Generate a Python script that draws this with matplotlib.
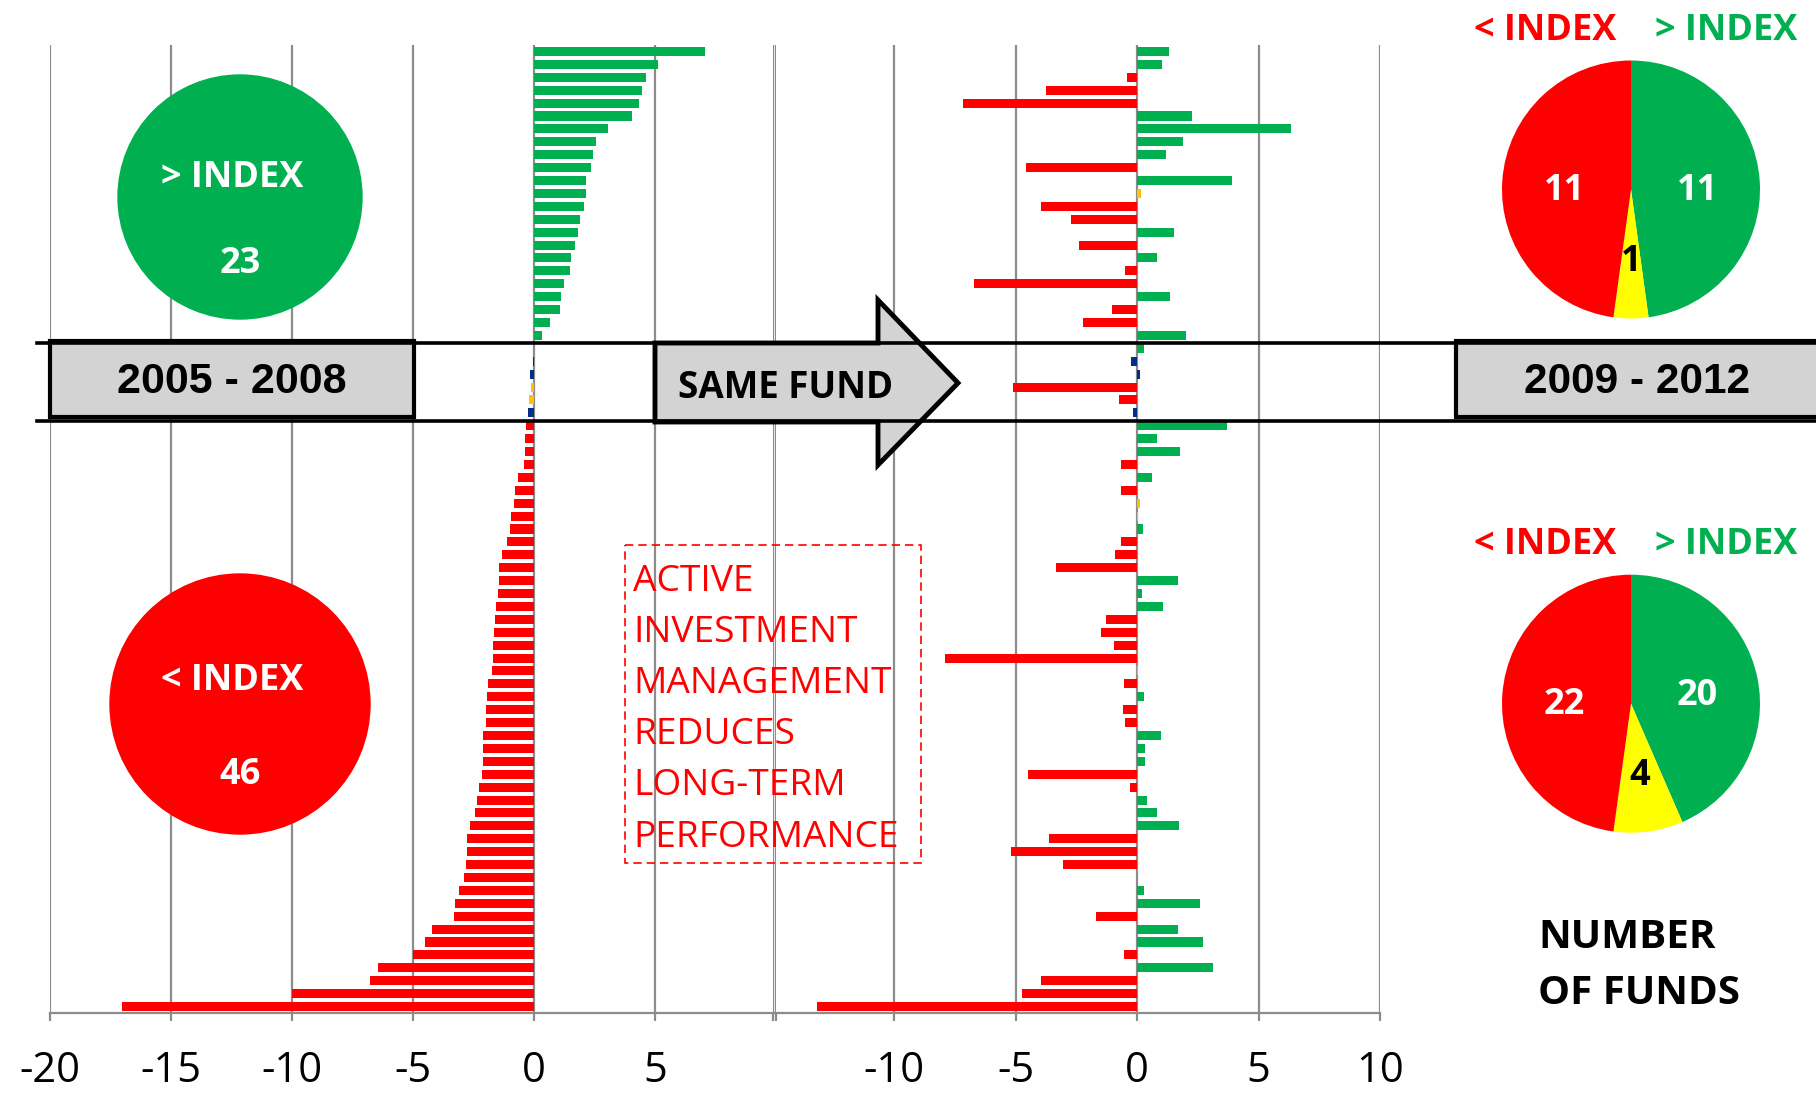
import matplotlib
matplotlib.use("Agg")
import matplotlib.pyplot as plt
from matplotlib.patches import Circle, Rectangle, Polygon

plt.rcParams['font.family'] = ['Open Sans', 'DejaVu Sans']
plt.rcParams['axes.unicode_minus'] = False

# excess return vs index, one row per fund (top to bottom)
left_vals = [7.05, 5.11, 4.61, 4.45, 4.33, 4.04, 3.04, 2.55, 2.42, 2.34, 2.13, 2.13,
             2.05, 1.89, 1.80, 1.68, 1.52, 1.47, 1.23, 1.10, 1.06, 0.65, 0.32,
             -0.02, -0.04, -0.17, -0.14, -0.22, -0.26,
             -0.32, -0.37, -0.39, -0.41, -0.66, -0.79, -0.83, -0.97, -0.99, -1.10,
             -1.34, -1.45, -1.46, -1.50, -1.58, -1.60, -1.65, -1.68, -1.69, -1.75,
             -1.91, -1.94, -1.97, -1.98, -2.09, -2.10, -2.11, -2.15, -2.27, -2.36,
             -2.44, -2.63, -2.75, -2.75, -2.81, -2.88, -3.10, -3.25, -3.31, -4.23,
             -4.52, -4.99, -6.45, -6.78, -9.99, -17.04]
left_cat = (['G'] * 23 + ['Y', 'B', 'B', 'Y', 'Y', 'B'] + ['R'] * 46)

right_vals = [1.30, 1.02, -0.43, -3.74, -7.17, 2.25, 6.32, 1.88, 1.18, -4.57, 3.90,
              0.15, -3.95, -2.72, 1.51, -2.41, 0.81, -0.49, -6.71, 1.34, -1.04,
              -2.25, 2.00,
              0.27, -0.26, 0.10, -5.13, -0.75, -0.18,
              3.69, 0.81, 1.76, -0.67, 0.60, -0.66, 0.11, 0.02, 0.23, -0.66, -0.91,
              -3.35, 1.67, 0.19, 1.06, -1.29, -1.51, -0.95, -7.93, 0.05, -0.53,
              0.27, -0.59, -0.51, 0.97, 0.32, 0.32, -4.50, -0.29, 0.40, 0.81, 1.71,
              -3.62, -5.20, -3.05, 0.01, 0.27, 2.58, -1.69, 1.67, 2.70, -0.53, 3.11,
              -3.98, -4.75, -13.2]
right_cat = ['G', 'G', 'R', 'R', 'R', 'G', 'G', 'G', 'G', 'R', 'G', 'Y', 'R', 'R',
             'G', 'R', 'G', 'R', 'R', 'G', 'R', 'R', 'G',
             'G', 'B', 'B', 'R', 'R', 'B',
             'G', 'G', 'G', 'R', 'G', 'R', 'Y', 'Y', 'G', 'R', 'R', 'R', 'G', 'G',
             'G', 'R', 'R', 'R', 'R', 'Y', 'R', 'G', 'R', 'R', 'G', 'G', 'G', 'R',
             'R', 'G', 'G', 'G', 'R', 'R', 'R', 'Y', 'G', 'G', 'R', 'G', 'G', 'R',
             'G', 'R', 'R', 'R']

left_ticks = [-20, -15, -10, -5, 0, 5, 10]
left_labels = ['-20', '-15', '-10', '-5', '0', '5', '']
right_ticks = [-15, -10, -5, 0, 5, 10]
right_labels = ['', '-10', '-5', '0', '5', '10']

box_text = ['ACTIVE', 'INVESTMENT', 'MANAGEMENT', 'REDUCES', 'LONG-TERM', 'PERFORMANCE']

bar_col = {'G': '#00B050', 'R': '#FF0000', 'Y': '#FFC000', 'B': '#002E8A'}
pie_col = {'G': '#00B050', 'R': '#FF0000', 'Y': '#FFFF00'}
GRID = '#8C8C8C'

W, H = 1816, 1093
fig = plt.figure(figsize=(W / 100, H / 100), dpi=100)

n = len(left_vals)
rows = list(range(n))


def bar_axes(rect, vals, cats, xlim, ticks, labels):
    ax = fig.add_axes(rect)
    ax.barh(rows, vals, height=0.7, color=[bar_col[c] for c in cats], zorder=3)
    ax.set_xlim(*xlim)
    ax.set_ylim(n - 0.5, -0.5)
    ax.set_xticks(ticks)
    ax.set_xticklabels(labels)
    ax.set_yticks([])
    ax.grid(axis='x', color=GRID, lw=1.6)
    ax.set_axisbelow(True)
    for s in ['top', 'right', 'left']:
        ax.spines[s].set_visible(False)
    ax.spines['bottom'].set_color(GRID)
    ax.spines['bottom'].set_linewidth(1.6)
    ax.tick_params(axis='x', direction='out', length=6, width=1.6, color=GRID,
                   labelsize=30, pad=21)
    ax.patch.set_alpha(0)
    return ax


y0 = (H - 1013) / H
hh = 968 / H
bar_axes([50 / W, y0, 726 / W, hh], left_vals, left_cat, (-20, 10), left_ticks, left_labels)
bar_axes([773 / W, y0, 607 / W, hh], right_vals, right_cat, (-15, 10), right_ticks, right_labels)

# overlay in pixel coordinates
ov = fig.add_axes([0, 0, 1, 1], zorder=10)
ov.set_xlim(0, W)
ov.set_ylim(H, 0)
ov.axis('off')
ov.patch.set_alpha(0)

# band
ov.plot([37, W], [343, 343], color='black', lw=2.6)
ov.plot([37, W], [421, 421], color='black', lw=2.6)
ov.add_patch(Rectangle((50, 341), 364, 76, facecolor='#D3D3D3', edgecolor='black', lw=3))
ov.add_patch(Rectangle((1456, 341), 400, 76, facecolor='#D3D3D3', edgecolor='black', lw=3))
ov.text(232, 382, '2005 - 2008', ha='center', va='center', fontsize=31,
        fontweight='bold', family=['Liberation Sans', 'DejaVu Sans'])
ov.text(1637, 382, '2009 - 2012', ha='center', va='center', fontsize=30.5,
        fontweight='bold', family=['Liberation Sans', 'DejaVu Sans'])
ov.add_patch(Polygon([(655, 343), (878, 343), (878, 300), (958, 383), (878, 465),
                      (878, 422), (655, 422)], closed=True, facecolor='#D3D3D3',
                     edgecolor='black', lw=3.5, joinstyle='miter'))
ov.text(786, 388, 'SAME FUND', ha='center', va='center', fontsize=26.5, fontweight='bold')

# circles with counts
n_up = left_cat.count('G')
n_down = left_cat.count('R')
ov.add_patch(Circle((240, 197), 122, color='#00B050'))
ov.text(232, 178, '> INDEX', ha='center', va='center', fontsize=26, fontweight='bold', color='white')
ov.text(240, 264, str(n_up), ha='center', va='center', fontsize=26, fontweight='bold', color='white')
ov.add_patch(Circle((240, 704), 130, color='#FF0000'))
ov.text(232, 681, '< INDEX', ha='center', va='center', fontsize=26, fontweight='bold', color='white')
ov.text(240, 775, str(n_down), ha='center', va='center', fontsize=26, fontweight='bold', color='white')

# dashed message box
ov.add_patch(Rectangle((625, 545), 296, 318, fill=False, edgecolor='#FF0000', lw=1.2,
                       linestyle=(0, (5, 3))))
ov.text(633, 564, '\n'.join(box_text), ha='left', va='top', fontsize=26.7,
        color='#FF0000', linespacing=1.56)

# pies of the later period
for (cy, lo, hi) in [(189.5, 0, 23), (703.7, 29, 75)]:
    cats = right_cat[lo:hi]
    counts = [cats.count('G'), cats.count('Y'), cats.count('R')]
    r = 129
    pax = fig.add_axes([(1631 - r) / W, (H - cy - r) / H, 2 * r / W, 2 * r / H])
    wedges, texts = pax.pie(counts, colors=[pie_col['G'], pie_col['Y'], pie_col['R']],
                            startangle=90, counterclock=False,
                            labels=[str(c) for c in counts], labeldistance=0.52,
                            textprops=dict(fontsize=26, fontweight='bold', color='white',
                                           ha='center', va='center'))
    texts[1].set_color('black')
    for t in texts:
        x, y = t.get_position()
        t.set_position((x, y - 0.045))
    pax.set_xlim(-1, 1)
    pax.set_ylim(-1, 1)
    pax.set_aspect('equal')
    ov.text(1545, cy - 159, '< INDEX', ha='center', va='center', fontsize=26,
            fontweight='bold', color='#FF0000')
    ov.text(1726, cy - 159, '> INDEX', ha='center', va='center', fontsize=26,
            fontweight='bold', color='#00B050')

ov.text(1538, 937, 'NUMBER', ha='left', va='center', fontsize=29, fontweight='bold')
ov.text(1538, 994, 'OF FUNDS', ha='left', va='center', fontsize=29, fontweight='bold')

fig.savefig('out.png', dpi=100)
